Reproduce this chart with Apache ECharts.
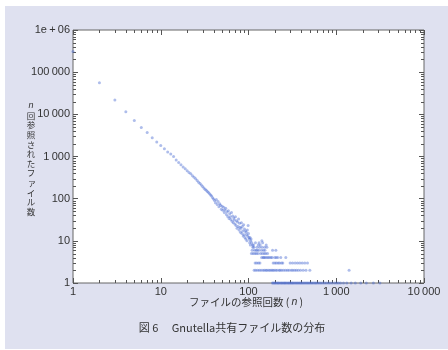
<!DOCTYPE html>
<html>
<head>
<meta charset="utf-8">
<script src="https://cdn.jsdelivr.net/npm/echarts@6/dist/echarts.min.js"></script>
<style>
  html, body { margin: 0; padding: 0; background: #fff; }
  #panel { position: absolute; left: 5px; top: 6px; width: 443px; height: 343px; background: #dfe1f0; }
  #chart { position: absolute; left: 0; top: 0; width: 448px; height: 350px; }
</style>
</head>
<body>
<div id="panel"></div>
<div id="chart"></div>
<script>
// counts for n = 1 .. 102 (one point per n)
const headCounts = [
  310000, 56000, 22000, 11500, 7100, 4900, 3700, 2800, 2200, 1820,
  1520, 1270, 1150, 1000, 830, 720, 640, 560, 510, 460,
  420, 390, 350, 320, 295, 270, 245, 228, 212, 195,
  180, 168, 158, 148, 140, 130, 122, 115, 105, 98,
  90, 80, 96, 73, 86, 64, 76, 70, 56, 66,
  53, 63, 47, 54, 59, 42, 49, 38, 52, 34,
  44, 37, 32, 47, 29, 39, 27, 35, 31, 25,
  37, 23, 30, 20, 28, 22, 33, 18, 26, 21,
  16, 20, 27, 15, 22, 17, 13, 24, 14, 19,
  12, 17, 11, 16, 14, 10, 18, 13, 23, 15,
  12, 11
];

// scattered points above the integer rows
const extraN = [104, 106, 107, 142, 145];
const extraCounts = [12, 10, 11, 10, 9];

// n values whose file count is 1 .. 9
const nWithCount1 = [187, 192, 198, 203, 210, 216, 221, 229, 236, 242, 250, 257, 263, 271, 280, 288, 296, 305, 314, 322,
  333, 344, 355, 366, 378, 390, 402, 415, 430, 445, 460, 476, 492, 510, 528, 548, 570, 590, 612, 640,
  668, 700, 735, 770, 810, 850, 900, 960, 1010, 1060, 1120, 1210, 1320, 1480, 1650, 1900, 2200, 2650, 3140];
const nWithCount2 = [116, 121, 127, 133, 139, 146, 152, 158, 163, 170, 176, 183, 189, 196, 204, 212, 223, 230, 240, 252,
  265, 278, 290, 307, 320, 336, 352, 370, 392, 420, 452, 500, 1400];
const nWithCount3 = [119, 124, 130, 135, 191, 200, 208, 218, 226, 238, 246, 298, 318, 340, 362, 385, 410, 438, 470];
const nWithCount4 = [141, 147, 150, 155, 161, 167, 173, 180, 186, 199, 207, 215, 233, 266];
const nWithCount5 = [108, 113, 118, 123, 128, 137, 144, 151, 157, 165];
const nWithCount6 = [110, 117, 122, 126, 131, 140, 148, 154, 188, 205];
const nWithCount7 = [112, 115, 125, 134, 143, 153, 162];
const nWithCount8 = [105, 111, 114, 129, 136, 159];
const nWithCount9 = [103, 109, 120, 132];

const xTickLabels = ['1', '10', '100', '1\u2009000', '10\u2009000'];
const yTickLabels = ['1', '10', '100', '1\u2009000', '10\u2009000', '100\u2009000', '1e\u2009+\u200906'];
const xMinorTicks = [2, 3, 4, 5, 6, 7, 8, 9, 20, 30, 40, 50, 60, 70, 80, 90,
  200, 300, 400, 500, 600, 700, 800, 900, 2000, 3000, 4000, 5000, 6000, 7000, 8000, 9000];
const yMinorTicks = [2, 3, 4, 5, 6, 7, 8, 9, 20, 30, 40, 50, 60, 70, 80, 90,
  200, 300, 400, 500, 600, 700, 800, 900, 2000, 3000, 4000, 5000, 6000, 7000, 8000, 9000,
  20000, 30000, 40000, 50000, 60000, 70000, 80000, 90000,
  200000, 300000, 400000, 500000, 600000, 700000, 800000, 900000];
const yTitleChars = ['回', '参', '照', 'さ', 'れ', 'た', 'フ', 'ァ', 'イ', 'ル', '数'];

const X_MIN = 1, X_MAX = 10000, Y_MIN = 1, Y_MAX = 1000000;

const points = headCounts.map((c, i) => [i + 1, c]);
extraN.forEach((n, i) => points.push([n, extraCounts[i]]));
[nWithCount1, nWithCount2, nWithCount3, nWithCount4, nWithCount5,
 nWithCount6, nWithCount7, nWithCount8, nWithCount9].forEach((list, i) => {
  list.forEach((n) => points.push([n, i + 1]));
});

const font = '"Liberation Sans", Arial, sans-serif';
const jpFont = '"Noto Sans CJK JP", sans-serif';
const tickColor = '#555';

function minorTick(horizontal) {
  return function (params, api) {
    const v = api.value(horizontal ? 0 : 1);
    const len = 3;
    const style = { stroke: tickColor, lineWidth: 1 };
    if (horizontal) {
      const b = api.coord([v, Y_MIN]);
      const t = api.coord([v, Y_MAX]);
      const x = Math.round(b[0]) + 0.5;
      return { type: 'group', children: [
        { type: 'line', shape: { x1: x, y1: b[1], x2: x, y2: b[1] - len }, style },
        { type: 'line', shape: { x1: x, y1: t[1], x2: x, y2: t[1] + len }, style }
      ] };
    }
    const l = api.coord([X_MIN, v]);
    const r = api.coord([X_MAX, v]);
    const y = Math.round(l[1]) + 0.5;
    return { type: 'group', children: [
      { type: 'line', shape: { x1: l[0], y1: y, x2: l[0] + len, y2: y }, style },
      { type: 'line', shape: { x1: r[0], y1: y, x2: r[0] - len, y2: y }, style }
    ] };
  };
}

const baseAxis = {
  type: 'log',
  logBase: 10,
  splitLine: { show: false },
  axisLine: { show: false },
  axisTick: { show: true, inside: true, length: 5, lineStyle: { color: tickColor } },
  minorTick: { show: false }
};

// vertical y-axis title, one character per element
const yTitle = [{
  type: 'text', x: 31, y: 105, silent: true,
  style: {
    text: 'n', align: 'center', verticalAlign: 'middle',
    fontFamily: font, fontStyle: 'italic', fontSize: 9, fill: '#333'
  }
}];
yTitleChars.forEach((ch, i) => {
  const small = ch === 'ァ';
  yTitle.push({
    type: 'text', x: small ? 32 : 31, y: 115.5 + i * 9.6, silent: true,
    style: {
      text: ch, align: 'center', verticalAlign: 'middle',
      fontFamily: jpFont, fontSize: 8.5, fill: '#333'
    }
  });
});

const chart = echarts.init(document.getElementById('chart'));
chart.setOption({
  backgroundColor: 'transparent',
  animation: false,
  grid: {
    left: 73, right: 24, top: 30, bottom: 67,
    show: true, backgroundColor: '#fff', borderColor: '#666', borderWidth: 1
  },
  xAxis: [
    {
      ...baseAxis, min: X_MIN, max: X_MAX, position: 'bottom',
      axisLabel: {
        color: '#333', fontFamily: font, fontSize: 11, margin: 3,
        formatter: (v) => xTickLabels[Math.round(Math.log10(v))]
      }
    },
    { ...baseAxis, min: X_MIN, max: X_MAX, position: 'top', axisLabel: { show: false } }
  ],
  yAxis: [
    {
      ...baseAxis, min: Y_MIN, max: Y_MAX, position: 'left',
      axisLabel: {
        color: '#333', fontFamily: font, fontSize: 11, margin: 3,
        formatter: (v) => yTickLabels[Math.round(Math.log10(v))]
      }
    },
    { ...baseAxis, min: Y_MIN, max: Y_MAX, position: 'right', axisLabel: { show: false } }
  ],
  series: [
    {
      type: 'custom', xAxisIndex: 0, yAxisIndex: 0, clip: false, silent: true,
      renderItem: minorTick(true), data: xMinorTicks.map((v) => [v, Y_MIN])
    },
    {
      type: 'custom', xAxisIndex: 0, yAxisIndex: 0, clip: false, silent: true,
      renderItem: minorTick(false), data: yMinorTicks.map((v) => [X_MIN, v])
    },
    {
      type: 'scatter', xAxisIndex: 0, yAxisIndex: 0, clip: false,
      symbol: 'circle', symbolSize: 3,
      itemStyle: { color: 'rgba(70, 105, 210, 0.55)' },
      data: points
    }
  ],
  graphic: yTitle.concat([
    {
      type: 'text', x: 246, y: 302, silent: true,
      style: {
        text: 'ファイルの参照回数 (\u2009{i|n}\u2009)',
        align: 'center', verticalAlign: 'middle',
        fontFamily: jpFont, fontSize: 10.5, fill: '#333',
        rich: { i: { fontStyle: 'italic', fontFamily: font, fontSize: 10.5 } }
      }
    },
    {
      type: 'text', x: 232, y: 328, silent: true,
      style: {
        text: '図 6\u3000 Gnutella共有ファイル数の分布',
        align: 'center', verticalAlign: 'middle',
        fontFamily: jpFont, fontSize: 11, fill: '#333'
      }
    }
  ])
});
</script>
</body>
</html>
